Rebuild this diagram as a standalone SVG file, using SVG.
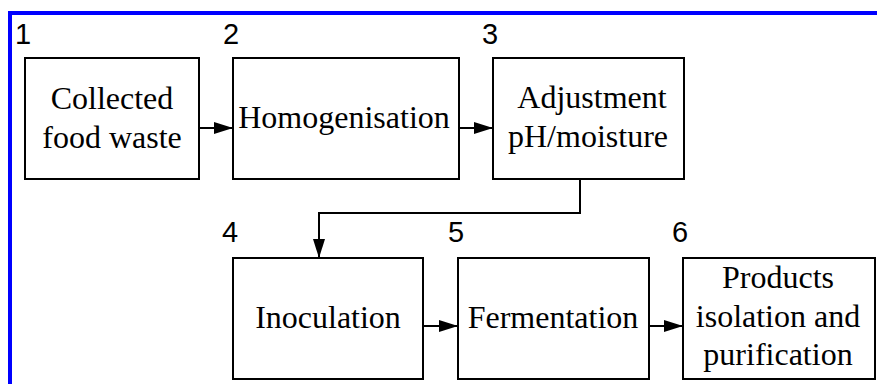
<svg xmlns="http://www.w3.org/2000/svg" width="877" height="384" viewBox="0 0 877 384">
  <style>
    .box { fill: #ffffff; stroke: #000000; stroke-width: 2; }
    .lbl { font-family: "Liberation Serif", "Times New Roman", serif; font-size: 32px; fill: #000000; }
    .num { font-family: "Liberation Sans", Arial, sans-serif; font-size: 29px; fill: #000000; }
    .edge { fill: none; stroke: #000000; stroke-width: 2; }
    .frame { fill: none; stroke: #0000ff; stroke-width: 4; }
  </style>
  <defs>
    <marker id="arrow" markerUnits="userSpaceOnUse" markerWidth="19" markerHeight="12" refX="19" refY="6" orient="auto">
      <path d="M0,0 L19,6 L0,12 Z" fill="#000000"/>
    </marker>
  </defs>

  <rect width="877" height="384" fill="#ffffff"/>

  <!-- blue frame along the top and left edges -->
  <path class="frame" d="M10,384 L10,13 L877,13"/>

  <g id="connectors">
    <line class="edge" x1="199" y1="128" x2="233" y2="128" marker-end="url(#arrow)"/>
    <line class="edge" x1="459" y1="128" x2="493" y2="128" marker-end="url(#arrow)"/>
    <path class="edge" d="M580,179 L580,213 L319,213 L319,258" marker-end="url(#arrow)"/>
    <line class="edge" x1="423" y1="326" x2="458" y2="326" marker-end="url(#arrow)"/>
    <line class="edge" x1="649" y1="326" x2="683" y2="326" marker-end="url(#arrow)"/>
  </g>

  <g id="step1">
    <text class="num" x="15" y="44">1</text>
    <rect class="box" x="25" y="58" width="174" height="121"/>
    <text class="lbl" x="112" y="109" text-anchor="middle">Collected</text>
    <text class="lbl" x="112" y="148" text-anchor="middle">food waste</text>
  </g>

  <g id="step2">
    <text class="num" x="223" y="44">2</text>
    <rect class="box" x="233" y="58" width="226" height="121"/>
    <text class="lbl" x="344" y="128" text-anchor="middle">Homogenisation</text>
  </g>

  <g id="step3">
    <text class="num" x="482" y="44">3</text>
    <rect class="box" x="493" y="58" width="191" height="121"/>
    <text class="lbl" x="592" y="108" text-anchor="middle">Adjustment</text>
    <text class="lbl" x="588" y="147" text-anchor="middle">pH/moisture</text>
  </g>

  <g id="step4">
    <text class="num" x="222" y="242">4</text>
    <rect class="box" x="233" y="258" width="190" height="121"/>
    <text class="lbl" x="328" y="328" text-anchor="middle">Inoculation</text>
  </g>

  <g id="step5">
    <text class="num" x="448" y="242">5</text>
    <rect class="box" x="458" y="258" width="191" height="121"/>
    <text class="lbl" x="553" y="328" text-anchor="middle">Fermentation</text>
  </g>

  <g id="step6">
    <text class="num" x="672" y="242">6</text>
    <rect class="box" x="683" y="258" width="192" height="121"/>
    <text class="lbl" x="778" y="288" text-anchor="middle">Products</text>
    <text class="lbl" x="778" y="327" text-anchor="middle">isolation and</text>
    <text class="lbl" x="778" y="365" text-anchor="middle">purification</text>
  </g>
</svg>
